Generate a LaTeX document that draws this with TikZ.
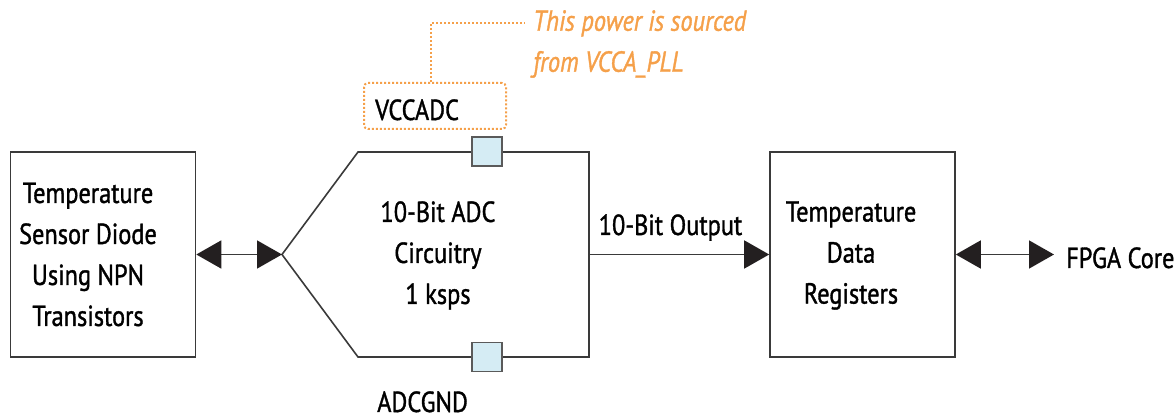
\documentclass[tikz,border=0pt]{standalone}
\usepackage{fontspec}
\setmainfont{PT Sans}[FakeStretch=0.84,FakeBold=1.2]
\usetikzlibrary{arrows.meta}
\definecolor{lncol}{HTML}{3A3A3A}
\definecolor{tipcol}{HTML}{231F20}
\definecolor{orng}{HTML}{F5A04A}
\definecolor{sqfill}{HTML}{D5ECF4}
\definecolor{sqdraw}{HTML}{5A5A5A}
\begin{document}
\begin{tikzpicture}[x=1pt,y=-1pt,
  >={Triangle[length=25pt,width=28pt,color=tipcol]},
  blk/.style={draw=lncol,line width=1.6pt,minimum width=185pt,minimum height=205pt,inner sep=0pt},
  txt/.style={font=\fontsize{29}{41}\selectfont,align=center,inner sep=0pt,text=black},
  conn/.style={draw=lncol,line width=1.6pt},
  pad/.style={draw=sqdraw,fill=sqfill,line width=1.4pt,minimum width=30pt,minimum height=29pt,inner sep=0pt},
  orn/.style={draw=orng,line width=2pt,dash pattern=on 2pt off 2pt}
]
\useasboundingbox (0,0) rectangle (1176,419);

% left sensor block
\node[blk] (sensor) at (103,254.5) {};
\node[txt] (sensortxt) at (88,254.5) {Temperature\\Sensor Diode\\Using NPN\\Transistors};

% ADC shape
\coordinate (apex) at (282,254.5);
\coordinate (tl) at (358,152);
\coordinate (tr) at (589,152);
\coordinate (br) at (589,357);
\coordinate (bl) at (358,357);
\coordinate (adcout) at (589,254.5);
\draw[conn,line join=miter] (apex) -- (tl) -- (tr) -- (br) -- (bl) -- cycle;
\node[pad] (vpad) at (487,151.5) {};
\node[pad] (gpad) at (487,357) {};
\node[txt] (adctxt) at (438,255.5) {10-Bit ADC\\Circuitry\\1 ksps};

% registers block
\node[blk] (regs) at (862.5,254.5) {};
\node[txt] (regstxt) at (851,255.5) {Temperature\\Data\\Registers};

% FPGA core label
\node[txt,anchor=base west] (fpga) at (1066,268) {FPGA Core};
\coordinate (fpgaend) at (1054,254.5);

% connectors
\draw[conn,<->] (sensor.east) -- (apex);
\draw[conn,->] (adcout) -- (regs.west);
\node[txt,anchor=base] (outlbl) at (670.5,235) {10-Bit Output};
\draw[conn,<->] (regs.east) -- (fpgaend);

% ADCGND label
\node[txt,anchor=base west] (gnd) at (377,412) {ADCGND};

% VCCADC dotted box and note
\node[orn,rounded corners=4pt,minimum width=142pt,minimum height=46pt,inner sep=0pt] (vbox) at (435,106) {};
\node[txt,anchor=base west] (vcc) at (375,120) {VCCADC};
\coordinate (lead) at (431,23);
\coordinate (leadend) at (525,23);
\draw[orn] (vbox.north -| lead) -- (lead) -- (leadend);
\node[txt,align=left,anchor=west,text=orng,font=\fontsize{29}{41}\selectfont\itshape] (note) at (533,44) {This power is sourced\\from VCCA\_PLL};
\end{tikzpicture}
\end{document}
